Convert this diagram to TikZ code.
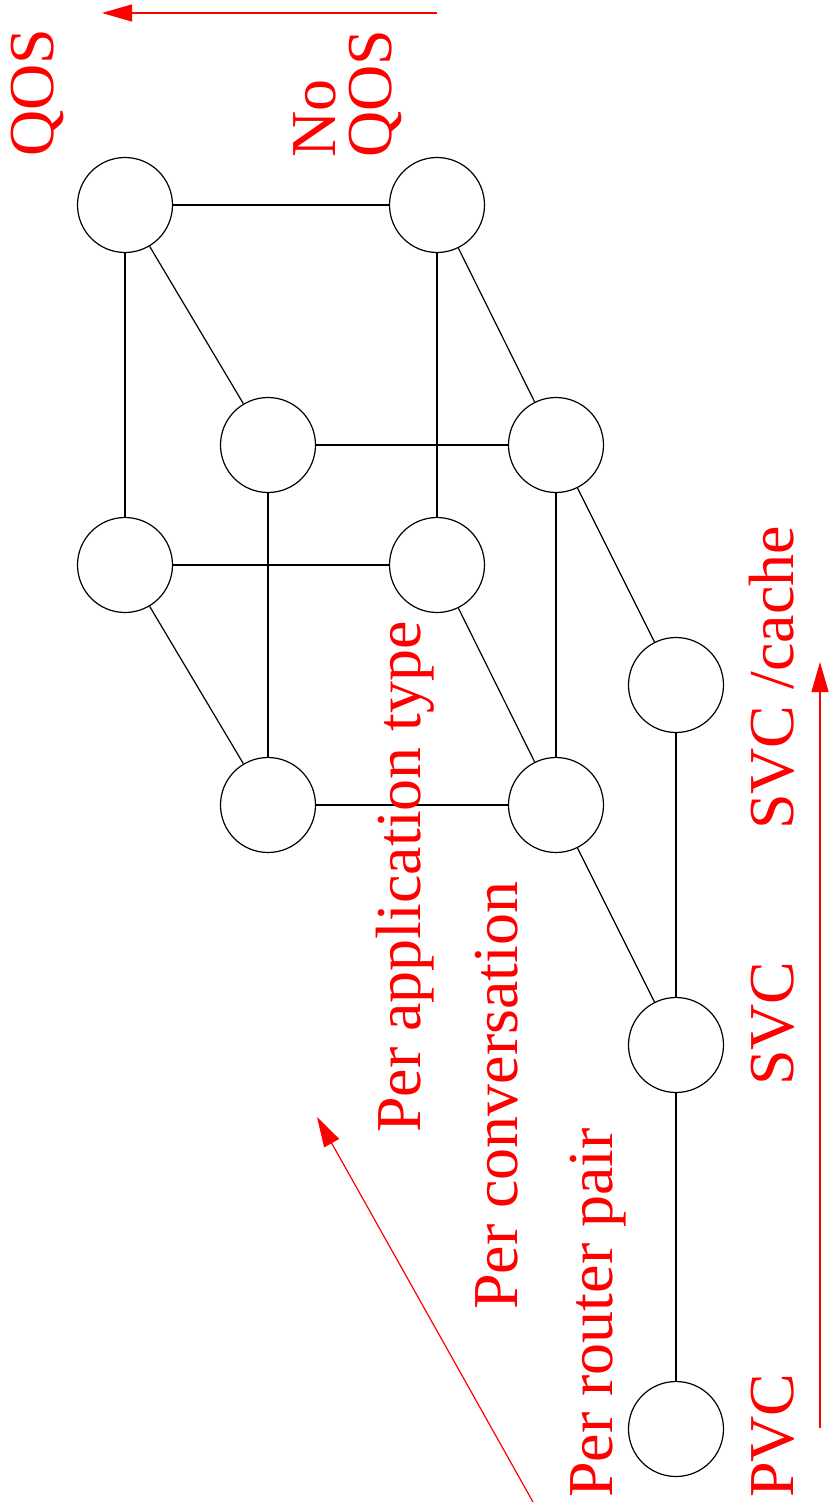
\documentclass[tikz,border=0pt]{standalone}
\usepackage{fontspec}
\setmainfont{Liberation Serif}
\usetikzlibrary{arrows.meta}
\begin{document}
\begin{tikzpicture}[x=1pt,y=-1pt,
  st/.style={circle,draw=black,line width=1.2pt,minimum size=95pt,inner sep=0pt},
  edge/.style={black,line width=1.2pt},
  lbl/.style={text=red,rotate=90,anchor=base west,inner sep=0pt,font=\fontsize{64}{64}\selectfont},
  rarrow/.style={red,line width=1.2pt,-{Triangle[length=30pt,width=17pt]}}]
\useasboundingbox (0,0) rectangle (832,1511);
% states
\node[st] (a) at (125,205) {};
\node[st] (b) at (437,205) {};
\node[st] (c) at (268,445) {};
\node[st] (d) at (556,445) {};
\node[st] (e) at (125,565) {};
\node[st] (f) at (437,565) {};
\node[st] (g) at (268,805) {};
\node[st] (h) at (556,805) {};
\node[st] (i) at (676,685) {};
\node[st] (j) at (676,1045) {};
\node[st] (k) at (676,1429) {};
% edges
\draw[edge] (a) -- (b);
\draw[edge] (a) -- (e);
\draw[edge] (b) -- (f);
\draw[edge] (a) -- (c);
\draw[edge] (b) -- (d);
\draw[edge] (c) -- (d);
\draw[edge] (c) -- (g);
\draw[edge] (d) -- (h);
\draw[edge] (e) -- (f);
\draw[edge] (e) -- (g);
\draw[edge] (f) -- (h);
\draw[edge] (g) -- (h);
\draw[edge] (d) -- (i);
\draw[edge] (h) -- (j);
\draw[edge] (i) -- (j);
\draw[edge] (j) -- (k);
% labels
\node[lbl] (qos) at (53,157) {QOS};
\node[lbl] (no) at (335,158) {No};
\node[lbl] (noqos) at (391,158) {QOS};
\node[lbl] (app) at (420,1133) {Per application type};
\node[lbl] (conv) at (517,1310) {Per conversation};
\node[lbl] (pair) at (612,1498) {Per router pair};
\node[lbl] (pvc) at (793,1498) {PVC};
\node[lbl] (svc) at (793,1086) {SVC};
\node[lbl] (svcc) at (793,830) {SVC /cache};
% arrows
\coordinate (t1) at (437,13);
\coordinate (t2) at (102,13);
\coordinate (r1) at (820,1428);
\coordinate (r2) at (820,662);
\coordinate (d1) at (533,1502);
\coordinate (d2) at (317,1117);
\draw[rarrow] (t1) -- (t2);
\draw[rarrow] (r1) -- (r2);
\draw[rarrow] (d1) -- (d2);
\end{tikzpicture}
\end{document}
